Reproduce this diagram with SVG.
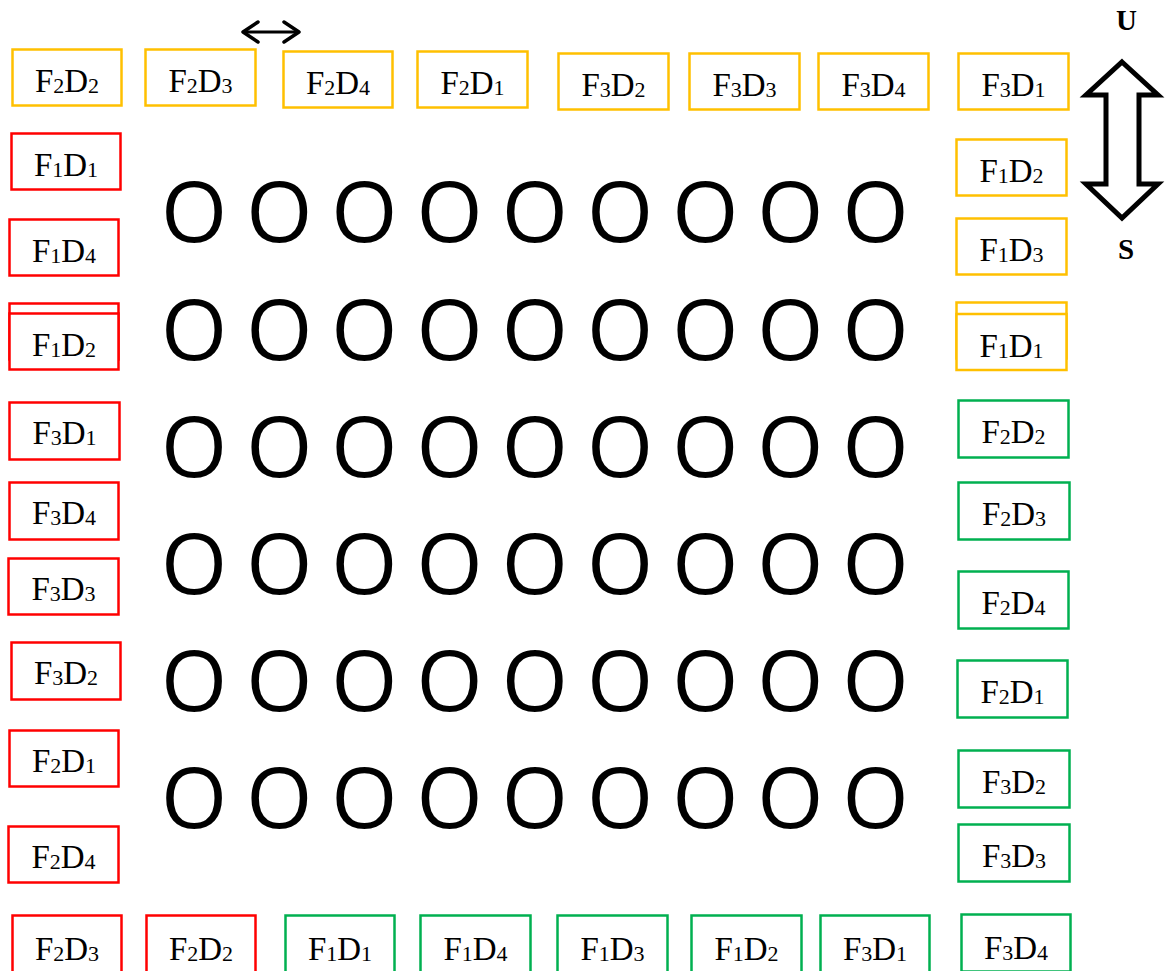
<svg xmlns="http://www.w3.org/2000/svg" width="1169" height="971" viewBox="0 0 1169 971">
<style>
.box{fill:#fff;stroke-width:2.5}
.g{stroke:#FFC000}
.r{stroke:#FF0000}
.n{stroke:#00B050}
.t{font-family:"Liberation Serif","Times New Roman",serif;font-size:33px;text-anchor:middle;fill:#000}
.s{font-size:22px}
.o{font-family:"Open Sans","Noto Sans",sans-serif;font-size:85px;text-anchor:middle;fill:#000}
.ud{font-family:"Liberation Serif","Times New Roman",serif;font-size:29px;font-weight:bold;text-anchor:middle;fill:#000}
</style>
<defs>
<marker id="chev" viewBox="0 0 20 24" refX="18" refY="12" markerWidth="20" markerHeight="24" markerUnits="userSpaceOnUse" orient="auto-start-reverse">
<path d="M3,2 L18,12 L3,22" fill="none" stroke="#000" stroke-width="3.5" stroke-linecap="round" stroke-linejoin="round"/>
</marker>
</defs>
<rect width="1169" height="971" fill="#fff"/>

<!-- top row (gold) -->
<g id="top-F2D2"><rect class="box g" x="12.5" y="49.5" width="109" height="56"/><text class="t" x="67" y="92">F<tspan class="s" dy="1">2</tspan><tspan dy="-1">D</tspan><tspan class="s" dy="1">2</tspan></text></g>
<g id="top-F2D3"><rect class="box g" x="145.5" y="49.5" width="110" height="56"/><text class="t" x="200.5" y="92">F<tspan class="s" dy="1">2</tspan><tspan dy="-1">D</tspan><tspan class="s" dy="1">3</tspan></text></g>
<g id="top-F2D4"><rect class="box g" x="283.5" y="51.5" width="109" height="56"/><text class="t" x="338" y="94">F<tspan class="s" dy="1">2</tspan><tspan dy="-1">D</tspan><tspan class="s" dy="1">4</tspan></text></g>
<g id="top-F2D1"><rect class="box g" x="417.5" y="51.5" width="110" height="56"/><text class="t" x="472.5" y="94">F<tspan class="s" dy="1">2</tspan><tspan dy="-1">D</tspan><tspan class="s" dy="1">1</tspan></text></g>
<g id="top-F3D2"><rect class="box g" x="558.5" y="53.5" width="110" height="56"/><text class="t" x="613.5" y="96">F<tspan class="s" dy="1">3</tspan><tspan dy="-1">D</tspan><tspan class="s" dy="1">2</tspan></text></g>
<g id="top-F3D3"><rect class="box g" x="689.5" y="53.5" width="110" height="56"/><text class="t" x="744.5" y="96">F<tspan class="s" dy="1">3</tspan><tspan dy="-1">D</tspan><tspan class="s" dy="1">3</tspan></text></g>
<g id="top-F3D4"><rect class="box g" x="818.5" y="53.5" width="110" height="56"/><text class="t" x="873.5" y="96">F<tspan class="s" dy="1">3</tspan><tspan dy="-1">D</tspan><tspan class="s" dy="1">4</tspan></text></g>
<g id="top-F3D1"><rect class="box g" x="958.5" y="53.5" width="110" height="56"/><text class="t" x="1013.5" y="96">F<tspan class="s" dy="1">3</tspan><tspan dy="-1">D</tspan><tspan class="s" dy="1">1</tspan></text></g>

<!-- right column -->
<g id="right-F1D2"><rect class="box g" x="956.5" y="139.5" width="110" height="56"/><text class="t" x="1011.5" y="182">F<tspan class="s" dy="1">1</tspan><tspan dy="-1">D</tspan><tspan class="s" dy="1">2</tspan></text></g>
<g id="right-F1D3"><rect class="box g" x="956.5" y="218.5" width="110" height="56"/><text class="t" x="1011.5" y="261">F<tspan class="s" dy="1">1</tspan><tspan dy="-1">D</tspan><tspan class="s" dy="1">3</tspan></text></g>
<g id="right-F1D1"><rect class="box g" x="956.5" y="302.5" width="110" height="56"/><rect class="box g" x="956.5" y="314" width="110" height="56"/><text class="t" x="1011.5" y="357">F<tspan class="s" dy="1">1</tspan><tspan dy="-1">D</tspan><tspan class="s" dy="1">1</tspan></text></g>
<g id="right-F2D2"><rect class="box n" x="958.5" y="400.5" width="110" height="57"/><text class="t" x="1013.5" y="443">F<tspan class="s" dy="1">2</tspan><tspan dy="-1">D</tspan><tspan class="s" dy="1">2</tspan></text></g>
<g id="right-F2D3"><rect class="box n" x="958.5" y="482.5" width="111" height="57"/><text class="t" x="1014" y="525">F<tspan class="s" dy="1">2</tspan><tspan dy="-1">D</tspan><tspan class="s" dy="1">3</tspan></text></g>
<g id="right-F2D4"><rect class="box n" x="958.5" y="571.5" width="110" height="57"/><text class="t" x="1013.5" y="614">F<tspan class="s" dy="1">2</tspan><tspan dy="-1">D</tspan><tspan class="s" dy="1">4</tspan></text></g>
<g id="right-F2D1"><rect class="box n" x="957.5" y="660.5" width="110" height="57"/><text class="t" x="1012.5" y="703">F<tspan class="s" dy="1">2</tspan><tspan dy="-1">D</tspan><tspan class="s" dy="1">1</tspan></text></g>
<g id="right-F3D2"><rect class="box n" x="958.5" y="750.5" width="111" height="57"/><text class="t" x="1014" y="793">F<tspan class="s" dy="1">3</tspan><tspan dy="-1">D</tspan><tspan class="s" dy="1">2</tspan></text></g>
<g id="right-F3D3"><rect class="box n" x="958.5" y="824.5" width="111" height="57"/><text class="t" x="1014" y="867">F<tspan class="s" dy="1">3</tspan><tspan dy="-1">D</tspan><tspan class="s" dy="1">3</tspan></text></g>

<!-- left column (red) -->
<g id="left-F1D1"><rect class="box r" x="11.5" y="133.5" width="109" height="56"/><text class="t" x="66" y="176">F<tspan class="s" dy="1">1</tspan><tspan dy="-1">D</tspan><tspan class="s" dy="1">1</tspan></text></g>
<g id="left-F1D4"><rect class="box r" x="9.5" y="219.5" width="109" height="56"/><text class="t" x="64" y="262">F<tspan class="s" dy="1">1</tspan><tspan dy="-1">D</tspan><tspan class="s" dy="1">4</tspan></text></g>
<g id="left-F1D2"><rect class="box r" x="9.5" y="303.5" width="109" height="56"/><rect class="box r" x="9.5" y="313.5" width="109" height="56"/><text class="t" x="64" y="356">F<tspan class="s" dy="1">1</tspan><tspan dy="-1">D</tspan><tspan class="s" dy="1">2</tspan></text></g>
<g id="left-F3D1"><rect class="box r" x="9.5" y="402.5" width="110" height="57"/><text class="t" x="64.5" y="444">F<tspan class="s" dy="1">3</tspan><tspan dy="-1">D</tspan><tspan class="s" dy="1">1</tspan></text></g>
<g id="left-F3D4"><rect class="box r" x="9.5" y="482.5" width="109" height="57"/><text class="t" x="64" y="524">F<tspan class="s" dy="1">3</tspan><tspan dy="-1">D</tspan><tspan class="s" dy="1">4</tspan></text></g>
<g id="left-F3D3"><rect class="box r" x="8.5" y="558.5" width="110" height="56"/><text class="t" x="63.5" y="600">F<tspan class="s" dy="1">3</tspan><tspan dy="-1">D</tspan><tspan class="s" dy="1">3</tspan></text></g>
<g id="left-F3D2"><rect class="box r" x="11.5" y="642.5" width="109" height="57"/><text class="t" x="66" y="684">F<tspan class="s" dy="1">3</tspan><tspan dy="-1">D</tspan><tspan class="s" dy="1">2</tspan></text></g>
<g id="left-F2D1"><rect class="box r" x="9.5" y="730.5" width="109" height="56"/><text class="t" x="64" y="772">F<tspan class="s" dy="1">2</tspan><tspan dy="-1">D</tspan><tspan class="s" dy="1">1</tspan></text></g>
<g id="left-F2D4"><rect class="box r" x="8.5" y="826.5" width="110" height="56"/><text class="t" x="63.5" y="868">F<tspan class="s" dy="1">2</tspan><tspan dy="-1">D</tspan><tspan class="s" dy="1">4</tspan></text></g>

<!-- bottom row -->
<g id="bottom-F2D3"><rect class="box r" x="12.5" y="915.5" width="109" height="57"/><text class="t" x="67" y="960">F<tspan class="s" dy="1">2</tspan><tspan dy="-1">D</tspan><tspan class="s" dy="1">3</tspan></text></g>
<g id="bottom-F2D2"><rect class="box r" x="146.5" y="915.5" width="109" height="57"/><text class="t" x="201" y="960">F<tspan class="s" dy="1">2</tspan><tspan dy="-1">D</tspan><tspan class="s" dy="1">2</tspan></text></g>
<g id="bottom-F1D1"><rect class="box n" x="285.5" y="915.5" width="109" height="57"/><text class="t" x="340" y="960">F<tspan class="s" dy="1">1</tspan><tspan dy="-1">D</tspan><tspan class="s" dy="1">1</tspan></text></g>
<g id="bottom-F1D4"><rect class="box n" x="420.5" y="915.5" width="110" height="57"/><text class="t" x="475.5" y="960">F<tspan class="s" dy="1">1</tspan><tspan dy="-1">D</tspan><tspan class="s" dy="1">4</tspan></text></g>
<g id="bottom-F1D3"><rect class="box n" x="557.5" y="915.5" width="110" height="57"/><text class="t" x="612.5" y="960">F<tspan class="s" dy="1">1</tspan><tspan dy="-1">D</tspan><tspan class="s" dy="1">3</tspan></text></g>
<g id="bottom-F1D2"><rect class="box n" x="691.5" y="915.5" width="110" height="57"/><text class="t" x="746.5" y="960">F<tspan class="s" dy="1">1</tspan><tspan dy="-1">D</tspan><tspan class="s" dy="1">2</tspan></text></g>
<g id="bottom-F3D1"><rect class="box n" x="820.5" y="915.5" width="109" height="57"/><text class="t" x="875" y="960">F<tspan class="s" dy="1">3</tspan><tspan dy="-1">D</tspan><tspan class="s" dy="1">1</tspan></text></g>
<g id="bottom-F3D4"><rect class="box n" x="961.5" y="914.5" width="109" height="57"/><text class="t" x="1016" y="959">F<tspan class="s" dy="1">3</tspan><tspan dy="-1">D</tspan><tspan class="s" dy="1">4</tspan></text></g>

<!-- grid of O -->
<g id="grid">
<text class="o" x="194 279.2 364.4 449.6 534.8 620 705.2 790.4 875.6" y="242">OOOOOOOOO</text>
<text class="o" x="194 279.2 364.4 449.6 534.8 620 705.2 790.4 875.6" y="360">OOOOOOOOO</text>
<text class="o" x="194 279.2 364.4 449.6 534.8 620 705.2 790.4 875.6" y="477">OOOOOOOOO</text>
<text class="o" x="194 279.2 364.4 449.6 534.8 620 705.2 790.4 875.6" y="594">OOOOOOOOO</text>
<text class="o" x="194 279.2 364.4 449.6 534.8 620 705.2 790.4 875.6" y="711">OOOOOOOOO</text>
<text class="o" x="194 279.2 364.4 449.6 534.8 620 705.2 790.4 875.6" y="828">OOOOOOOOO</text>
</g>

<!-- U / S indicator -->
<g id="us-arrow">
<polygon points="1122,62 1158,95 1139,95 1139,184 1158,184 1122,218 1086,184 1106,184 1106,95 1086,95" fill="#fff" stroke="#000" stroke-width="5" stroke-linejoin="miter"/>
<text class="ud" x="1126.5" y="30">U</text>
<text class="ud" x="1126" y="259">S</text>
</g>

<!-- connectors -->
<g id="connectors">
<line x1="243" y1="32" x2="299" y2="32" stroke="#000" stroke-width="3" marker-start="url(#chev)" marker-end="url(#chev)"/>
</g>
</svg>
